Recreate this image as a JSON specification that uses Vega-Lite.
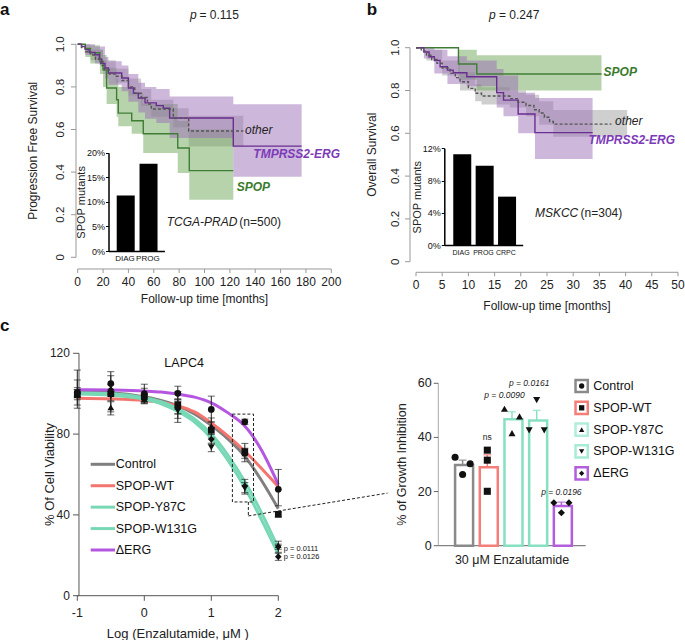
{
"$schema":"https://vega.github.io/schema/vega-lite/v6.json",
"width":685,"height":640,"padding":0,"autosize":{"type":"none"},
"background":"white",
"config":{"font":"Liberation Sans","view":{"stroke":null},"axis":{"grid":false,"labelColor":"#222","titleColor":"#222","titleFontWeight":"normal","labelFont":"Liberation Sans","titleFont":"Liberation Sans","labelFlush":false,"labelOverlap":false}},
"datasets":{
"aLine":[
{"g":"SPOP","m":0,"s":1},{"g":"SPOP","m":6,"s":0.98},{"g":"SPOP","m":10,"s":0.96},{"g":"SPOP","m":17.5,"s":0.92},{"g":"SPOP","m":20,"s":0.88},{"g":"SPOP","m":22.8,"s":0.795},{"g":"SPOP","m":30.7,"s":0.74},{"g":"SPOP","m":32,"s":0.677},{"g":"SPOP","m":42.6,"s":0.641},{"g":"SPOP","m":51.7,"s":0.58},{"g":"SPOP","m":78.9,"s":0.513},{"g":"SPOP","m":88,"s":0.407},{"g":"SPOP","m":122.7,"s":0.407},
{"g":"TMPRSS2-ERG","m":0,"s":1},{"g":"TMPRSS2-ERG","m":3,"s":0.99},{"g":"TMPRSS2-ERG","m":6,"s":0.975},{"g":"TMPRSS2-ERG","m":9,"s":0.962},{"g":"TMPRSS2-ERG","m":13.6,"s":0.951},{"g":"TMPRSS2-ERG","m":17,"s":0.93},{"g":"TMPRSS2-ERG","m":19,"s":0.91},{"g":"TMPRSS2-ERG","m":21.5,"s":0.889},{"g":"TMPRSS2-ERG","m":24.2,"s":0.865},{"g":"TMPRSS2-ERG","m":34.7,"s":0.842},{"g":"TMPRSS2-ERG","m":40,"s":0.795},{"g":"TMPRSS2-ERG","m":43.9,"s":0.771},{"g":"TMPRSS2-ERG","m":47.8,"s":0.748},{"g":"TMPRSS2-ERG","m":53.1,"s":0.725},{"g":"TMPRSS2-ERG","m":62,"s":0.712},{"g":"TMPRSS2-ERG","m":67.5,"s":0.7},{"g":"TMPRSS2-ERG","m":72.5,"s":0.654},{"g":"TMPRSS2-ERG","m":122.7,"s":0.522},{"g":"TMPRSS2-ERG","m":176.6,"s":0.522},
{"g":"other","m":0,"s":1},{"g":"other","m":3,"s":0.985},{"g":"other","m":6,"s":0.965},{"g":"other","m":10,"s":0.95},{"g":"other","m":14,"s":0.93},{"g":"other","m":18,"s":0.9},{"g":"other","m":21,"s":0.88},{"g":"other","m":25,"s":0.86},{"g":"other","m":30,"s":0.85},{"g":"other","m":35,"s":0.83},{"g":"other","m":40,"s":0.8},{"g":"other","m":45,"s":0.77},{"g":"other","m":50,"s":0.75},{"g":"other","m":55,"s":0.72},{"g":"other","m":58,"s":0.696},{"g":"other","m":75.4,"s":0.654},{"g":"other","m":87.5,"s":0.593},{"g":"other","m":130.6,"s":0.593}],
"aBand":[
{"g":"other","m":0,"lo":1,"hi":1},{"g":"other","m":10,"lo":0.925,"hi":0.975},{"g":"other","m":20,"lo":0.86,"hi":0.925},{"g":"other","m":30,"lo":0.82,"hi":0.885},{"g":"other","m":40,"lo":0.76,"hi":0.84},{"g":"other","m":50,"lo":0.71,"hi":0.79},{"g":"other","m":58,"lo":0.66,"hi":0.74},{"g":"other","m":75.4,"lo":0.61,"hi":0.7},{"g":"other","m":87.5,"lo":0.52,"hi":0.665},{"g":"other","m":130.6,"lo":0.52,"hi":0.665},
{"g":"SPOP","m":0,"lo":1,"hi":1},{"g":"SPOP","m":6,"lo":0.94,"hi":1},{"g":"SPOP","m":10,"lo":0.91,"hi":0.995},{"g":"SPOP","m":17.5,"lo":0.86,"hi":0.975},{"g":"SPOP","m":20,"lo":0.8,"hi":0.95},{"g":"SPOP","m":22.8,"lo":0.72,"hi":0.89},{"g":"SPOP","m":30.7,"lo":0.66,"hi":0.84},{"g":"SPOP","m":32,"lo":0.615,"hi":0.8},{"g":"SPOP","m":42.6,"lo":0.58,"hi":0.77},{"g":"SPOP","m":51.7,"lo":0.49,"hi":0.72},{"g":"SPOP","m":78.9,"lo":0.396,"hi":0.64},{"g":"SPOP","m":88,"lo":0.27,"hi":0.6},{"g":"SPOP","m":122.7,"lo":0.27,"hi":0.6},
{"g":"TMPRSS2-ERG","m":0,"lo":1,"hi":1},{"g":"TMPRSS2-ERG","m":6,"lo":0.95,"hi":1},{"g":"TMPRSS2-ERG","m":13.6,"lo":0.91,"hi":0.99},{"g":"TMPRSS2-ERG","m":21.5,"lo":0.84,"hi":0.94},{"g":"TMPRSS2-ERG","m":24.2,"lo":0.81,"hi":0.92},{"g":"TMPRSS2-ERG","m":34.7,"lo":0.78,"hi":0.9},{"g":"TMPRSS2-ERG","m":40,"lo":0.73,"hi":0.86},{"g":"TMPRSS2-ERG","m":47.8,"lo":0.68,"hi":0.82},{"g":"TMPRSS2-ERG","m":53.1,"lo":0.65,"hi":0.8},{"g":"TMPRSS2-ERG","m":62,"lo":0.63,"hi":0.79},{"g":"TMPRSS2-ERG","m":72.5,"lo":0.56,"hi":0.755},{"g":"TMPRSS2-ERG","m":122.7,"lo":0.378,"hi":0.718},{"g":"TMPRSS2-ERG","m":176.6,"lo":0.378,"hi":0.718}],
"bLine":[
{"g":"SPOP","m":0,"s":1},{"g":"SPOP","m":8.1,"s":0.924},{"g":"SPOP","m":11.6,"s":0.877},{"g":"SPOP","m":35.4,"s":0.877},
{"g":"TMPRSS2-ERG","m":0,"s":1},{"g":"TMPRSS2-ERG","m":1.5,"s":0.98},{"g":"TMPRSS2-ERG","m":2.5,"s":0.958},{"g":"TMPRSS2-ERG","m":3.5,"s":0.94},{"g":"TMPRSS2-ERG","m":4.6,"s":0.911},{"g":"TMPRSS2-ERG","m":6,"s":0.895},{"g":"TMPRSS2-ERG","m":7.1,"s":0.883},{"g":"TMPRSS2-ERG","m":9.7,"s":0.864},{"g":"TMPRSS2-ERG","m":15.4,"s":0.79},{"g":"TMPRSS2-ERG","m":16.7,"s":0.755},{"g":"TMPRSS2-ERG","m":19.5,"s":0.69},{"g":"TMPRSS2-ERG","m":22.7,"s":0.603},{"g":"TMPRSS2-ERG","m":33.7,"s":0.603},
{"g":"other","m":0,"s":1},{"g":"other","m":1,"s":0.985},{"g":"other","m":2,"s":0.965},{"g":"other","m":3,"s":0.945},{"g":"other","m":4,"s":0.927},{"g":"other","m":5,"s":0.905},{"g":"other","m":6.5,"s":0.88},{"g":"other","m":7.5,"s":0.86},{"g":"other","m":8.4,"s":0.841},{"g":"other","m":10,"s":0.81},{"g":"other","m":11.3,"s":0.787},{"g":"other","m":12.5,"s":0.774},{"g":"other","m":17.9,"s":0.762},{"g":"other","m":19.5,"s":0.745},{"g":"other","m":21,"s":0.73},{"g":"other","m":22.5,"s":0.71},{"g":"other","m":23.5,"s":0.695},{"g":"other","m":24.5,"s":0.675},{"g":"other","m":25.5,"s":0.655},{"g":"other","m":26.2,"s":0.643},{"g":"other","m":37.3,"s":0.643}],
"bBand":[
{"g":"other","m":0,"lo":1,"hi":1},{"g":"other","m":2,"lo":0.94,"hi":0.99},{"g":"other","m":5,"lo":0.87,"hi":0.94},{"g":"other","m":8.4,"lo":0.8,"hi":0.885},{"g":"other","m":11.3,"lo":0.75,"hi":0.83},{"g":"other","m":12.5,"lo":0.735,"hi":0.815},{"g":"other","m":17.9,"lo":0.72,"hi":0.8},{"g":"other","m":21,"lo":0.68,"hi":0.78},{"g":"other","m":23.5,"lo":0.64,"hi":0.75},{"g":"other","m":26.2,"lo":0.584,"hi":0.709},{"g":"other","m":40.3,"lo":0.584,"hi":0.709},
{"g":"SPOP","m":0,"lo":1,"hi":1},{"g":"SPOP","m":8.1,"lo":0.85,"hi":0.99},{"g":"SPOP","m":11.6,"lo":0.8,"hi":0.965},{"g":"SPOP","m":35.4,"lo":0.8,"hi":0.965},
{"g":"TMPRSS2-ERG","m":0,"lo":1,"hi":1},{"g":"TMPRSS2-ERG","m":1.5,"lo":0.95,"hi":1},{"g":"TMPRSS2-ERG","m":3.5,"lo":0.88,"hi":0.99},{"g":"TMPRSS2-ERG","m":6,"lo":0.83,"hi":0.96},{"g":"TMPRSS2-ERG","m":9.7,"lo":0.82,"hi":0.94},{"g":"TMPRSS2-ERG","m":15.4,"lo":0.72,"hi":0.9},{"g":"TMPRSS2-ERG","m":16.7,"lo":0.68,"hi":0.87},{"g":"TMPRSS2-ERG","m":19.5,"lo":0.6,"hi":0.79},{"g":"TMPRSS2-ERG","m":22.7,"lo":0.48,"hi":0.765},{"g":"TMPRSS2-ERG","m":33.7,"lo":0.48,"hi":0.765}],
"survTicks":[{"v":0,"lab":"0"},{"v":0.2,"lab":"0.2"},{"v":0.4,"lab":"0.4"},{"v":0.6,"lab":"0.6"},{"v":0.8,"lab":"0.8"},{"v":1,"lab":"1.0"}],
"curves":[
{"grp":"Control","x":-1,"v":101},{"grp":"Control","x":-0.75,"v":100.8},{"grp":"Control","x":-0.5,"v":100.5},{"grp":"Control","x":-0.25,"v":99.7},{"grp":"Control","x":0,"v":98.4},{"grp":"Control","x":0.25,"v":96.7},{"grp":"Control","x":0.5,"v":94},{"grp":"Control","x":0.75,"v":90},{"grp":"Control","x":1,"v":84.3},{"grp":"Control","x":1.25,"v":77.5},{"grp":"Control","x":1.5,"v":69},{"grp":"Control","x":1.75,"v":57},{"grp":"Control","x":2,"v":43},
{"grp":"SPOP-WT","x":-1,"v":97.7},{"grp":"SPOP-WT","x":-0.5,"v":97.4},{"grp":"SPOP-WT","x":0,"v":96.6},{"grp":"SPOP-WT","x":0.25,"v":95.7},{"grp":"SPOP-WT","x":0.5,"v":94},{"grp":"SPOP-WT","x":0.75,"v":91},{"grp":"SPOP-WT","x":1,"v":85.5},{"grp":"SPOP-WT","x":1.25,"v":79},{"grp":"SPOP-WT","x":1.5,"v":71.5},{"grp":"SPOP-WT","x":1.75,"v":63},{"grp":"SPOP-WT","x":2,"v":54},
{"grp":"SPOP-Y87C","x":-1,"v":100.5},{"grp":"SPOP-Y87C","x":-0.5,"v":100},{"grp":"SPOP-Y87C","x":0,"v":98},{"grp":"SPOP-Y87C","x":0.25,"v":96},{"grp":"SPOP-Y87C","x":0.5,"v":92.5},{"grp":"SPOP-Y87C","x":0.75,"v":87.5},{"grp":"SPOP-Y87C","x":1,"v":80},{"grp":"SPOP-Y87C","x":1.25,"v":69.5},{"grp":"SPOP-Y87C","x":1.5,"v":56.5},{"grp":"SPOP-Y87C","x":1.75,"v":41},{"grp":"SPOP-Y87C","x":2,"v":23.5},
{"grp":"SPOP-W131G","x":-1,"v":99.8},{"grp":"SPOP-W131G","x":-0.5,"v":99.2},{"grp":"SPOP-W131G","x":0,"v":97.2},{"grp":"SPOP-W131G","x":0.25,"v":95},{"grp":"SPOP-W131G","x":0.5,"v":91.2},{"grp":"SPOP-W131G","x":0.75,"v":86},{"grp":"SPOP-W131G","x":1,"v":78},{"grp":"SPOP-W131G","x":1.25,"v":67},{"grp":"SPOP-W131G","x":1.5,"v":53.5},{"grp":"SPOP-W131G","x":1.75,"v":37.5},{"grp":"SPOP-W131G","x":2,"v":20.5},
{"grp":"ΔERG","x":-1,"v":102},{"grp":"ΔERG","x":-0.5,"v":101.8},{"grp":"ΔERG","x":0,"v":101.3},{"grp":"ΔERG","x":0.25,"v":100.8},{"grp":"ΔERG","x":0.5,"v":99.8},{"grp":"ΔERG","x":0.75,"v":98.3},{"grp":"ΔERG","x":1,"v":95.5},{"grp":"ΔERG","x":1.25,"v":90.5},{"grp":"ΔERG","x":1.5,"v":84},{"grp":"ΔERG","x":1.75,"v":72},{"grp":"ΔERG","x":2,"v":55}],
"pts":[
{"x":-1,"v":100.5,"lo":94.4,"hi":106.8,"sym":"circle"},{"x":-1,"v":99.5,"lo":92.8,"hi":111.7,"sym":"square"},{"x":-1,"v":99.8,"lo":97,"hi":103,"sym":"triangle-up"},{"x":-1,"v":100,"lo":98,"hi":102,"sym":"triangle-down"},{"x":-1,"v":100.2,"lo":98.5,"hi":102,"sym":"diamond"},
{"x":-0.5,"v":105,"lo":101,"hi":110.9,"sym":"circle"},{"x":-0.5,"v":100,"lo":89.5,"hi":108.9,"sym":"square"},{"x":-0.5,"v":93.2,"lo":91,"hi":96,"sym":"triangle-up"},{"x":-0.5,"v":98.8,"lo":96.5,"hi":101,"sym":"triangle-down"},{"x":-0.5,"v":102,"lo":99.5,"hi":104.5,"sym":"diamond"},
{"x":0,"v":100,"lo":96,"hi":104.7,"sym":"circle"},{"x":0,"v":98.5,"lo":95.3,"hi":102.7,"sym":"square"},{"x":0,"v":97.5,"lo":95.5,"hi":99.5,"sym":"triangle-up"},{"x":0,"v":97,"lo":95,"hi":99,"sym":"triangle-down"},{"x":0,"v":98,"lo":96,"hi":100,"sym":"diamond"},
{"x":0.5,"v":100.2,"lo":97.5,"hi":103.7,"sym":"circle"},{"x":0.5,"v":94.5,"lo":87.8,"hi":101,"sym":"square"},{"x":0.5,"v":93.5,"lo":90,"hi":97,"sym":"triangle-up"},{"x":0.5,"v":91.5,"lo":85.8,"hi":97,"sym":"triangle-down"},{"x":0.5,"v":93,"lo":90,"hi":96,"sym":"diamond"},
{"x":1,"v":92.2,"lo":86,"hi":98.8,"sym":"circle"},{"x":1,"v":82,"lo":78,"hi":86,"sym":"square"},{"x":1,"v":84,"lo":80,"hi":88,"sym":"triangle-up"},{"x":1,"v":73.4,"lo":71.3,"hi":75.5,"sym":"triangle-down"},{"x":1,"v":77.4,"lo":75,"hi":80,"sym":"diamond"},
{"x":1.5,"v":86.1,"lo":84.8,"hi":87.4,"sym":"circle"},{"x":1.5,"v":71.3,"lo":66.3,"hi":75.4,"sym":"square"},{"x":1.5,"v":70.5,"lo":68,"hi":73,"sym":"triangle-up"},{"x":1.5,"v":53.2,"lo":50.3,"hi":56,"sym":"triangle-down"},{"x":1.5,"v":54.3,"lo":51,"hi":57.6,"sym":"diamond"},
{"x":2,"v":52.7,"lo":44.5,"hi":62.5,"sym":"circle"},{"x":2,"v":40.3,"lo":39,"hi":41.5,"sym":"square"},{"x":2,"v":25,"lo":23,"hi":27,"sym":"triangle-up"},{"x":2,"v":23.5,"lo":21.5,"hi":25.5,"sym":"triangle-down"},{"x":2,"v":19.3,"lo":17.5,"hi":21,"sym":"diamond"}],
"bars":[{"grp":"Control","mean":29.8,"hi":31.6},{"grp":"SPOP-WT","mean":29.0,"hi":33.6},{"grp":"SPOP-Y87C","mean":46.7,"hi":49.5},{"grp":"SPOP-W131G","mean":46.3,"hi":50.0},{"grp":"ΔERG","mean":14.7,"hi":16.1}],
"reps":[{"grp":"Control","rep":"L","v":32.7},{"grp":"Control","rep":"R","v":30.3},{"grp":"Control","rep":"M","v":26.3},
{"grp":"SPOP-WT","rep":"M","v":35.3},{"grp":"SPOP-WT","rep":"M","v":31.6},{"grp":"SPOP-WT","rep":"M","v":20.1},
{"grp":"SPOP-Y87C","rep":"L","v":50.6},{"grp":"SPOP-Y87C","rep":"R","v":47.8},{"grp":"SPOP-Y87C","rep":"M","v":41.6},
{"grp":"SPOP-W131G","rep":"M","v":53.8},{"grp":"SPOP-W131G","rep":"L","v":42.6},{"grp":"SPOP-W131G","rep":"R","v":42.6},
{"grp":"ΔERG","rep":"L","v":15.9},{"grp":"ΔERG","rep":"R","v":15.9},{"grp":"ΔERG","rep":"M","v":12.2}],
"grps":[{"grp":"Control"},{"grp":"SPOP-WT"},{"grp":"SPOP-Y87C"},{"grp":"SPOP-W131G"},{"grp":"ΔERG"}]
},
"layer":[
{"layer":[
 {"data":{"name":"aBand"},"mark":{"type":"area","interpolate":"step-after","opacity":0.5},
  "encoding":{
   "x":{"field":"m","type":"quantitative","scale":{"domain":[0,200],"range":[77.7,331.3],"nice":false,"zero":false},"axis":null},
   "y":{"field":"lo","type":"quantitative","scale":{"domain":[0,1],"range":[257.3,44.3],"nice":false,"zero":false},"axis":null},
   "y2":{"field":"hi"},
   "fill":{"field":"g","type":"nominal","scale":{"domain":["SPOP","TMPRSS2-ERG","other"],"range":["#6fa75a","#9b6fb8","#a0a0a0"]},"legend":null}}},
 {"data":{"name":"aLine"},"mark":{"type":"line","interpolate":"step-after","strokeWidth":1.4},
  "encoding":{
   "x":{"field":"m","type":"quantitative","axis":null},
   "y":{"field":"s","type":"quantitative","axis":null},
   "stroke":{"field":"g","type":"nominal","scale":{"domain":["SPOP","TMPRSS2-ERG","other"],"range":["#3f7d35","#6a2d90","#555555"]},"legend":null},
   "strokeDash":{"field":"g","type":"nominal","scale":{"domain":["SPOP","TMPRSS2-ERG","other"],"range":[[1,0],[1,0],[3,2]]},"legend":null}}},
 {"data":{"values":[{}]},"mark":{"type":"rule","color":"#999"},
  "encoding":{"x":{"datum":0,"type":"quantitative","axis":null},"x2":{"datum":200},"y":{"datum":-0.0549,"type":"quantitative","axis":null}}},
 {"data":{"values":[{}]},"mark":{"type":"rule","color":"#999"},
  "encoding":{"x":{"datum":-1.34,"type":"quantitative","axis":null},"y":{"datum":0,"type":"quantitative","axis":null},"y2":{"datum":1}}},
 {"data":{"values":[{"v":0},{"v":20},{"v":40},{"v":60},{"v":80},{"v":100},{"v":120},{"v":140},{"v":160},{"v":180},{"v":200}]},"layer":[
   {"mark":{"type":"rule","color":"#999"},"encoding":{"x":{"field":"v","type":"quantitative","axis":null},"y":{"datum":-0.0549,"type":"quantitative","axis":null},"y2":{"datum":-0.0737}}},
   {"mark":{"type":"text","fontSize":12,"color":"#222","baseline":"middle","align":"center"},"encoding":{"x":{"field":"v","type":"quantitative","axis":null},"y":{"datum":-0.1146,"type":"quantitative","axis":null},"text":{"field":"v"}}}]},
 {"data":{"name":"survTicks"},"layer":[
   {"mark":{"type":"rule","color":"#999"},"encoding":{"y":{"field":"v","type":"quantitative","axis":null},"x":{"datum":-1.34,"type":"quantitative","axis":null},"x2":{"datum":-5.28}}},
   {"mark":{"type":"text","fontSize":11.5,"color":"#222","baseline":"middle","align":"center","angle":270},"encoding":{"y":{"field":"v","type":"quantitative","axis":null},"x":{"datum":-13.2,"type":"quantitative","axis":null},"text":{"field":"lab"}}}]},
 {"data":{"values":[{"t":"Follow-up time [months]","m":100,"s":-0.198}]},"mark":{"type":"text","fontSize":12,"color":"#222","baseline":"middle","align":"center"},
  "encoding":{"x":{"field":"m","type":"quantitative","axis":null},"y":{"field":"s","type":"quantitative","axis":null},"text":{"field":"t"}}},
 {"data":{"values":[{"t":"Progression Free Survival","m":-35,"s":0.5}]},"mark":{"type":"text","fontSize":12,"color":"#222","baseline":"middle","align":"center","angle":270},
  "encoding":{"x":{"field":"m","type":"quantitative","axis":null},"y":{"field":"s","type":"quantitative","axis":null},"text":{"field":"t"}}},
 {"data":{"values":[{"t":"TMPRSS2-ERG","m":138.5,"s":0.485,"g":"TMPRSS2-ERG"},{"t":"SPOP","m":125.4,"s":0.331,"g":"SPOP"}]},
  "mark":{"type":"text","align":"left","baseline":"middle","fontSize":12,"fontWeight":"bold","fontStyle":"italic"},
  "encoding":{"x":{"field":"m","type":"quantitative","axis":null},"y":{"field":"s","type":"quantitative","axis":null},"text":{"field":"t"},
   "color":{"field":"g","type":"nominal","scale":{"domain":["SPOP","TMPRSS2-ERG"],"range":["#3a7a2c","#7d3bb8"]},"legend":null}}},
 {"data":{"values":[{"t":"other","m":132,"s":0.598},{"t":"TCGA-PRAD","m":70.2,"s":0.167},{"t":"p","m":88.6,"s":1.1376}]},
  "mark":{"type":"text","align":"left","baseline":"middle","fontSize":12,"fontStyle":"italic","color":"#222"},
  "encoding":{"x":{"field":"m","type":"quantitative","axis":null},"y":{"field":"s","type":"quantitative","axis":null},"text":{"field":"t"}}},
 {"data":{"values":[{"t":"(n=500)","m":127.5,"s":0.167},{"t":"= 0.115","m":96,"s":1.1376}]},
  "mark":{"type":"text","align":"left","baseline":"middle","fontSize":12,"color":"#222"},
  "encoding":{"x":{"field":"m","type":"quantitative","axis":null},"y":{"field":"s","type":"quantitative","axis":null},"text":{"field":"t"}}},
 {"data":{"values":[{"t":"a","m":-61.3,"s":1.163}]},
  "mark":{"type":"text","align":"left","baseline":"middle","fontSize":17,"fontWeight":"bold","color":"#111"},
  "encoding":{"x":{"field":"m","type":"quantitative","axis":null},"y":{"field":"s","type":"quantitative","axis":null},"text":{"field":"t"}}}
]},
{"data":{"values":[{"stage":"DIAG","pct":11.3},{"stage":"PROG","pct":17.75}]},
 "mark":{"type":"bar","color":"black"},
 "encoding":{
  "x":{"field":"stage","type":"nominal","sort":null,"scale":{"range":[108.5,164.4],"paddingInner":0.27,"paddingOuter":0.36},"axis":{"orient":"bottom","offset":-389,"title":null,"labelAngle":0,"labelFontSize":8,"labelPadding":3,"ticks":false,"domainColor":"black","domainWidth":1.5,"labelColor":"#111"}},
  "y":{"field":"pct","type":"quantitative","scale":{"domain":[0,20],"range":[251,152.7],"nice":false},"axis":{"orient":"left","offset":-108.5,"values":[0,5,10,15,20],"labelExpr":"datum.value + '%'","title":"SPOP mutants","tickSize":3,"labelPadding":1,"labelFontSize":9,"titleFontSize":11,"titlePadding":0,"domainColor":"black","tickColor":"black","domainWidth":1.5,"labelColor":"#111"}}}},
{"layer":[
 {"data":{"name":"bBand"},"mark":{"type":"area","interpolate":"step-after","opacity":0.5},
  "encoding":{
   "x":{"field":"m","type":"quantitative","scale":{"domain":[0,50],"range":[416,678],"nice":false,"zero":false},"axis":null},
   "y":{"field":"lo","type":"quantitative","scale":{"domain":[0,1],"range":[261.7,47.7],"nice":false,"zero":false},"axis":null},
   "y2":{"field":"hi"},
   "fill":{"field":"g","type":"nominal","scale":{"domain":["SPOP","TMPRSS2-ERG","other"],"range":["#6fa75a","#9b6fb8","#a0a0a0"]},"legend":null}}},
 {"data":{"name":"bLine"},"mark":{"type":"line","interpolate":"step-after","strokeWidth":1.4},
  "encoding":{
   "x":{"field":"m","type":"quantitative","axis":null},
   "y":{"field":"s","type":"quantitative","axis":null},
   "stroke":{"field":"g","type":"nominal","scale":{"domain":["SPOP","TMPRSS2-ERG","other"],"range":["#3f7d35","#6a2d90","#555555"]},"legend":null},
   "strokeDash":{"field":"g","type":"nominal","scale":{"domain":["SPOP","TMPRSS2-ERG","other"],"range":[[1,0],[1,0],[3,2]]},"legend":null}}},
 {"data":{"values":[{}]},"mark":{"type":"rule","color":"#999"},
  "encoding":{"x":{"datum":0,"type":"quantitative","axis":null},"x2":{"datum":50},"y":{"datum":-0.0495,"type":"quantitative","axis":null}}},
 {"data":{"values":[{}]},"mark":{"type":"rule","color":"#999"},
  "encoding":{"x":{"datum":-1.145,"type":"quantitative","axis":null},"y":{"datum":0,"type":"quantitative","axis":null},"y2":{"datum":1}}},
 {"data":{"values":[{"v":0},{"v":5},{"v":10},{"v":15},{"v":20},{"v":25},{"v":30},{"v":35},{"v":40},{"v":45},{"v":50}]},"layer":[
   {"mark":{"type":"rule","color":"#999"},"encoding":{"x":{"field":"v","type":"quantitative","axis":null},"y":{"datum":-0.0495,"type":"quantitative","axis":null},"y2":{"datum":-0.068}}},
   {"mark":{"type":"text","fontSize":12,"color":"#222","baseline":"middle","align":"center"},"encoding":{"x":{"field":"v","type":"quantitative","axis":null},"y":{"datum":-0.107,"type":"quantitative","axis":null},"text":{"field":"v"}}}]},
 {"data":{"name":"survTicks"},"layer":[
   {"mark":{"type":"rule","color":"#999"},"encoding":{"y":{"field":"v","type":"quantitative","axis":null},"x":{"datum":-1.145,"type":"quantitative","axis":null},"x2":{"datum":-2.1}}},
   {"mark":{"type":"text","fontSize":11.5,"color":"#222","baseline":"middle","align":"center","angle":270},"encoding":{"y":{"field":"v","type":"quantitative","axis":null},"x":{"datum":-3.82,"type":"quantitative","axis":null},"text":{"field":"lab"}}}]},
 {"data":{"values":[{"t":"Follow-up time [months]","m":25,"s":-0.207}]},"mark":{"type":"text","fontSize":12,"color":"#222","baseline":"middle","align":"center"},
  "encoding":{"x":{"field":"m","type":"quantitative","axis":null},"y":{"field":"s","type":"quantitative","axis":null},"text":{"field":"t"}}},
 {"data":{"values":[{"t":"Overall Survival","m":-8.45,"s":0.5}]},"mark":{"type":"text","fontSize":12,"color":"#222","baseline":"middle","align":"center","angle":270},
  "encoding":{"x":{"field":"m","type":"quantitative","axis":null},"y":{"field":"s","type":"quantitative","axis":null},"text":{"field":"t"}}},
 {"data":{"values":[{"t":"TMPRSS2-ERG","m":32.9,"s":0.569,"g":"TMPRSS2-ERG"},{"t":"SPOP","m":35.8,"s":0.888,"g":"SPOP"}]},
  "mark":{"type":"text","align":"left","baseline":"middle","fontSize":12,"fontWeight":"bold","fontStyle":"italic"},
  "encoding":{"x":{"field":"m","type":"quantitative","axis":null},"y":{"field":"s","type":"quantitative","axis":null},"text":{"field":"t"},
   "color":{"field":"g","type":"nominal","scale":{"domain":["SPOP","TMPRSS2-ERG"],"range":["#3a7a2c","#7d3bb8"]},"legend":null}}},
 {"data":{"values":[{"t":"other","m":38,"s":0.657},{"t":"MSKCC","m":22.7,"s":0.226},{"t":"p","m":13.93,"s":1.153}]},
  "mark":{"type":"text","align":"left","baseline":"middle","fontSize":12,"fontStyle":"italic","color":"#222"},
  "encoding":{"x":{"field":"m","type":"quantitative","axis":null},"y":{"field":"s","type":"quantitative","axis":null},"text":{"field":"t"}}},
 {"data":{"values":[{"t":"(n=304)","m":31.4,"s":0.226},{"t":"= 0.247","m":15.84,"s":1.153}]},
  "mark":{"type":"text","align":"left","baseline":"middle","fontSize":12,"color":"#222"},
  "encoding":{"x":{"field":"m","type":"quantitative","axis":null},"y":{"field":"s","type":"quantitative","axis":null},"text":{"field":"t"}}},
 {"data":{"values":[{"t":"b","m":-9.41,"s":1.178}]},
  "mark":{"type":"text","align":"left","baseline":"middle","fontSize":17,"fontWeight":"bold","color":"#111"},
  "encoding":{"x":{"field":"m","type":"quantitative","axis":null},"y":{"field":"s","type":"quantitative","axis":null},"text":{"field":"t"}}}
]},
{"data":{"values":[{"stage":"DIAG","pct":11.26},{"stage":"PROG","pct":9.84},{"stage":"CRPC","pct":6.0}]},
 "mark":{"type":"bar","color":"black"},
 "encoding":{
  "x":{"field":"stage","type":"nominal","sort":null,"scale":{"range":[444.3,522.7],"paddingInner":0.3,"paddingOuter":0.4},"axis":{"orient":"bottom","offset":-395,"title":null,"labelAngle":0,"labelFontSize":7,"labelPadding":3,"ticks":false,"domainColor":"black","domainWidth":1.5,"labelColor":"#111"}},
  "y":{"field":"pct","type":"quantitative","scale":{"domain":[0,12],"range":[245,148.3],"nice":false},"axis":{"orient":"left","offset":-444.3,"values":[0,4,8,12],"labelExpr":"datum.value + '%'","title":"SPOP mutants","tickSize":3,"labelPadding":1,"labelFontSize":9,"titleFontSize":11,"titlePadding":0,"domainColor":"black","tickColor":"black","domainWidth":1.5,"labelColor":"#111"}}}},
{"layer":[
 {"data":{"name":"curves"},"mark":{"type":"line","interpolate":"monotone","strokeWidth":3},
  "encoding":{
   "x":{"field":"x","type":"quantitative","scale":{"domain":[-1,2],"range":[77.3,278.3],"nice":false,"zero":false},"axis":null},
   "y":{"field":"v","type":"quantitative","scale":{"domain":[0,120],"range":[595.7,353.3],"nice":false,"zero":false},"axis":null},
   "stroke":{"field":"grp","type":"nominal","scale":{"domain":["Control","SPOP-WT","SPOP-Y87C","SPOP-W131G","ΔERG"],"range":["#7f7f7f","#f4756e","#78d8b5","#78d8b5","#b556e0"]},"legend":null}}},
 {"data":{"values":[{}]},"mark":{"type":"rule","color":"#555"},
  "encoding":{"x":{"datum":-1,"type":"quantitative","axis":null},"x2":{"datum":2},"y":{"datum":0,"type":"quantitative","axis":null}}},
 {"data":{"values":[{}]},"mark":{"type":"rule","color":"#555"},
  "encoding":{"x":{"datum":-0.975,"type":"quantitative","axis":null},"y":{"datum":0,"type":"quantitative","axis":null},"y2":{"datum":120}}},
 {"data":{"values":[{"v":-1},{"v":0},{"v":1},{"v":2}]},"layer":[
   {"mark":{"type":"rule","color":"#555"},"encoding":{"x":{"field":"v","type":"quantitative","axis":null},"y":{"datum":0,"type":"quantitative","axis":null},"y2":{"datum":-2.5}}},
   {"mark":{"type":"text","fontSize":12.5,"color":"#222","baseline":"middle","align":"center"},"encoding":{"x":{"field":"v","type":"quantitative","axis":null},"y":{"datum":-8.7,"type":"quantitative","axis":null},"text":{"field":"v"}}}]},
 {"data":{"values":[{"v":0},{"v":40},{"v":80},{"v":120}]},"layer":[
   {"mark":{"type":"rule","color":"#555"},"encoding":{"y":{"field":"v","type":"quantitative","axis":null},"x":{"datum":-0.975,"type":"quantitative","axis":null},"x2":{"datum":-1.064}}},
   {"mark":{"type":"text","fontSize":12,"color":"#222","baseline":"middle","align":"right"},"encoding":{"y":{"field":"v","type":"quantitative","axis":null},"x":{"datum":-1.11,"type":"quantitative","axis":null},"text":{"field":"v"}}}]},
 {"data":{"values":[{"t":"Log (Enzalutamide, μM )","x":0.5,"v":-19}]},"mark":{"type":"text","fontSize":13,"color":"#222","baseline":"middle","align":"center"},
  "encoding":{"x":{"field":"x","type":"quantitative","axis":null},"y":{"field":"v","type":"quantitative","axis":null},"text":{"field":"t"}}},
 {"data":{"values":[{"t":"% Of Cell Viability","x":-1.407,"v":60}]},"mark":{"type":"text","fontSize":13,"color":"#222","baseline":"middle","align":"center","angle":270},
  "encoding":{"x":{"field":"x","type":"quantitative","axis":null},"y":{"field":"v","type":"quantitative","axis":null},"text":{"field":"t"}}},
 {"data":{"name":"pts"},"mark":{"type":"rule","color":"#222","strokeWidth":1},
  "encoding":{"x":{"field":"x","type":"quantitative","axis":null},"y":{"field":"lo","type":"quantitative","axis":null},"y2":{"field":"hi"}}},
 {"data":{"name":"pts"},"mark":{"type":"tick","orient":"horizontal","size":7,"thickness":1,"color":"#222"},
  "encoding":{"x":{"field":"x","type":"quantitative","axis":null},"y":{"field":"lo","type":"quantitative","axis":null}}},
 {"data":{"name":"pts"},"mark":{"type":"tick","orient":"horizontal","size":7,"thickness":1,"color":"#222"},
  "encoding":{"x":{"field":"x","type":"quantitative","axis":null},"y":{"field":"hi","type":"quantitative","axis":null}}},
 {"data":{"name":"pts"},"mark":{"type":"point","filled":true,"color":"#111","size":45,"opacity":1},
  "encoding":{"x":{"field":"x","type":"quantitative","axis":null},"y":{"field":"v","type":"quantitative","axis":null},
   "shape":{"field":"sym","type":"nominal","scale":{"domain":["circle","square","triangle-up","triangle-down","diamond"],"range":["circle","square","triangle-up","triangle-down","diamond"]},"legend":null}}},
 {"data":{"values":[{}]},"mark":{"type":"rect","filled":false,"stroke":"#222","strokeDash":[3,2],"strokeWidth":1},
  "encoding":{"x":{"datum":1.315,"type":"quantitative","axis":null},"x2":{"datum":1.63},"y":{"datum":89.9,"type":"quantitative","axis":null},"y2":{"datum":46.4}}},
 {"data":{"values":[{}]},"mark":{"type":"rule","stroke":"#222","strokeDash":[3,2],"strokeWidth":1},
  "encoding":{"x":{"datum":1.553,"type":"quantitative","axis":null},"y":{"datum":46.4,"type":"quantitative","axis":null},"y2":{"datum":39.5}}},
 {"data":{"values":[{}]},"mark":{"type":"rule","stroke":"#222","strokeDash":[3,2],"strokeWidth":1},
  "encoding":{"x":{"datum":1.553,"type":"quantitative","axis":null},"x2":{"datum":3.63},"y":{"datum":39.5,"type":"quantitative","axis":null},"y2":{"datum":50.8}}},
 {"data":{"values":[{"t":"LAPC4","x":0.595,"v":115.3}]},"mark":{"type":"text","align":"center","baseline":"middle","fontSize":12.5,"color":"#111"},
  "encoding":{"x":{"field":"x","type":"quantitative","axis":null},"y":{"field":"v","type":"quantitative","axis":null},"text":{"field":"t"}}},
 {"data":{"values":[{"t":"p = 0.0111","x":2.08,"v":23.3},{"t":"p = 0.0126","x":2.08,"v":19}]},"mark":{"type":"text","align":"left","baseline":"middle","fontSize":7.5,"color":"#111"},
  "encoding":{"x":{"field":"x","type":"quantitative","axis":null},"y":{"field":"v","type":"quantitative","axis":null},"text":{"field":"t"}}},
 {"data":{"values":[{"t":"c","x":-2.155,"v":133.5}]},"mark":{"type":"text","align":"left","baseline":"middle","fontSize":17,"fontWeight":"bold","color":"#111"},
  "encoding":{"x":{"field":"x","type":"quantitative","axis":null},"y":{"field":"v","type":"quantitative","axis":null},"text":{"field":"t"}}}
]},
{"data":{"name":"grps"},"layer":[
 {"mark":{"type":"rule","strokeWidth":3},
  "encoding":{"x":{"datum":0,"type":"quantitative","scale":{"domain":[0,1],"range":[90.7,115]},"axis":null},"x2":{"datum":1},
   "y":{"field":"grp","type":"nominal","sort":null,"scale":{"type":"point","domain":["Control","SPOP-WT","SPOP-Y87C","SPOP-W131G","ΔERG"],"range":[464.3,550],"padding":0},"axis":null},
   "color":{"field":"grp","type":"nominal","scale":{"domain":["Control","SPOP-WT","SPOP-Y87C","SPOP-W131G","ΔERG"],"range":["#7f7f7f","#f4756e","#78d8b5","#78d8b5","#b556e0"]},"legend":null}}},
 {"mark":{"type":"text","align":"left","baseline":"middle","fontSize":12.5,"color":"#111"},
  "encoding":{"x":{"datum":1.03,"type":"quantitative","axis":null},"y":{"field":"grp","type":"nominal","sort":null,"axis":null},"text":{"field":"grp"}}}
]},
{"layer":[
 {"data":{"values":[{}]},"mark":{"type":"rule","color":"#aaa"},
  "encoding":{"x":{"datum":0,"type":"quantitative","scale":{"domain":[0,1],"range":[438.3,585.7]},"axis":null},"y":{"datum":0,"type":"quantitative","scale":{"domain":[0,60],"range":[545.7,383.3],"nice":false},"axis":null},"y2":{"datum":60}}},
 {"data":{"values":[{}]},"mark":{"type":"rule","color":"#666"},
  "encoding":{"x":{"datum":0,"type":"quantitative","axis":null},"x2":{"datum":1},"y":{"datum":0,"type":"quantitative","axis":null}}},
 {"data":{"values":[{"v":0},{"v":20},{"v":40},{"v":60}]},"layer":[
   {"mark":{"type":"rule","color":"#666"},"encoding":{"y":{"field":"v","type":"quantitative","axis":null},"x":{"datum":0,"type":"quantitative","axis":null},"x2":{"datum":-0.031}}},
   {"mark":{"type":"text","fontSize":12.5,"color":"#222","baseline":"middle","align":"right"},"encoding":{"y":{"field":"v","type":"quantitative","axis":null},"x":{"datum":-0.045,"type":"quantitative","axis":null},"text":{"field":"v"}}}]},
 {"data":{"values":[{"t":"30 μM Enzalutamide","x":0.5,"v":-5.3}]},"mark":{"type":"text","fontSize":12.5,"color":"#222","baseline":"middle","align":"center"},
  "encoding":{"x":{"field":"x","type":"quantitative","axis":null},"y":{"field":"v","type":"quantitative","axis":null},"text":{"field":"t"}}},
 {"data":{"values":[{"t":"% of Growth Inhibition","x":-0.248,"v":30}]},"mark":{"type":"text","fontSize":12.5,"color":"#222","baseline":"middle","align":"center","angle":270},
  "encoding":{"x":{"field":"x","type":"quantitative","axis":null},"y":{"field":"v","type":"quantitative","axis":null},"text":{"field":"t"}}}
]},
{"layer":[
 {"data":{"name":"bars"},"mark":{"type":"bar","fill":"white","strokeWidth":2.5},
  "encoding":{
   "x":{"field":"grp","type":"nominal","sort":null,"scale":{"domain":["Control","SPOP-WT","SPOP-Y87C","SPOP-W131G","ΔERG"],"range":[438.3,585.7],"paddingInner":0.39,"paddingOuter":0.68},"axis":null},
   "y":{"field":"mean","type":"quantitative","scale":{"domain":[0,60],"range":[545.7,383.3],"nice":false},"axis":null},
   "stroke":{"field":"grp","type":"nominal","scale":{"domain":["Control","SPOP-WT","SPOP-Y87C","SPOP-W131G","ΔERG"],"range":["#8a8a8a","#f47f79","#88e0c2","#88e0c2","#b35fdc"]},"legend":null}}},
 {"data":{"name":"bars"},"mark":{"type":"rule","strokeWidth":1.5},
  "encoding":{"x":{"field":"grp","type":"nominal","sort":null,"axis":null},"y":{"field":"mean","type":"quantitative","axis":null},"y2":{"field":"hi"},
   "color":{"field":"grp","type":"nominal","scale":{"domain":["Control","SPOP-WT","SPOP-Y87C","SPOP-W131G","ΔERG"],"range":["#8a8a8a","#f47f79","#88e0c2","#88e0c2","#b35fdc"]},"legend":null}}},
 {"data":{"name":"bars"},"mark":{"type":"tick","orient":"horizontal","size":8,"thickness":1.5},
  "encoding":{"x":{"field":"grp","type":"nominal","sort":null,"axis":null},"y":{"field":"hi","type":"quantitative","axis":null},
   "color":{"field":"grp","type":"nominal","legend":null}}},
 {"data":{"name":"reps"},"mark":{"type":"point","filled":true,"color":"#111","size":50,"opacity":1},
  "encoding":{"x":{"field":"grp","type":"nominal","sort":null,"axis":null},"xOffset":{"field":"rep","type":"nominal","scale":{"domain":["L","M","R"],"paddingInner":0,"paddingOuter":0}},
   "y":{"field":"v","type":"quantitative","axis":null},
   "shape":{"field":"grp","type":"nominal","scale":{"domain":["Control","SPOP-WT","SPOP-Y87C","SPOP-W131G","ΔERG"],"range":["circle","square","triangle-up","triangle-down","diamond"]},"legend":null}}},
 {"data":{"values":[{"t":"ns","grp":"SPOP-WT","rep":"M","v":40}]},"mark":{"type":"text","baseline":"middle","align":"center","fontSize":8.5,"color":"#222"},
  "encoding":{"x":{"field":"grp","type":"nominal","sort":null,"axis":null},"xOffset":{"field":"rep","type":"nominal"},"y":{"field":"v","type":"quantitative","axis":null},"text":{"field":"t"}}},
 {"data":{"values":[{"t":"p = 0.0090","grp":"SPOP-Y87C","rep":"L","v":55.7},{"t":"p = 0.0161","grp":"SPOP-W131G","rep":"L","v":60},{"t":"p = 0.0196","grp":"ΔERG","rep":"M","v":19.7}]},"mark":{"type":"text","baseline":"middle","align":"center","fontSize":8.5,"fontStyle":"italic","color":"#222"},
  "encoding":{"x":{"field":"grp","type":"nominal","sort":null,"axis":null},"xOffset":{"field":"rep","type":"nominal"},"y":{"field":"v","type":"quantitative","axis":null},"text":{"field":"t"}}}
]},
{"data":{"name":"grps"},"layer":[
 {"mark":{"type":"point","shape":"square","filled":true,"fill":"white","size":150,"strokeWidth":2.5,"opacity":1},
  "encoding":{"x":{"datum":0.5,"type":"quantitative","scale":{"domain":[0,1],"range":[575,588.3]},"axis":null},
   "y":{"field":"grp","type":"nominal","sort":null,"scale":{"type":"point","domain":["Control","SPOP-WT","SPOP-Y87C","SPOP-W131G","ΔERG"],"range":[386,473.3],"padding":0},"axis":null},
   "stroke":{"field":"grp","type":"nominal","scale":{"domain":["Control","SPOP-WT","SPOP-Y87C","SPOP-W131G","ΔERG"],"range":["#8a8a8a","#f47f79","#b0eedb","#a8ecd6","#b35fdc"]},"legend":null}}},
 {"mark":{"type":"point","filled":true,"color":"#111","size":28,"opacity":1},
  "encoding":{"x":{"datum":0.5,"type":"quantitative","axis":null},"y":{"field":"grp","type":"nominal","sort":null,"axis":null},
   "shape":{"field":"grp","type":"nominal","scale":{"domain":["Control","SPOP-WT","SPOP-Y87C","SPOP-W131G","ΔERG"],"range":["circle","square","triangle-up","triangle-down","diamond"]},"legend":null}}},
 {"mark":{"type":"text","align":"left","baseline":"middle","fontSize":12.5,"color":"#111"},
  "encoding":{"x":{"datum":1.376,"type":"quantitative","axis":null},"y":{"field":"grp","type":"nominal","sort":null,"axis":null},"text":{"field":"grp"}}}
]}
],
"resolve":{"scale":{"x":"independent","y":"independent","color":"independent","fill":"independent","stroke":"independent","strokeDash":"independent","shape":"independent"},"axis":{"x":"independent","y":"independent"}}
}
